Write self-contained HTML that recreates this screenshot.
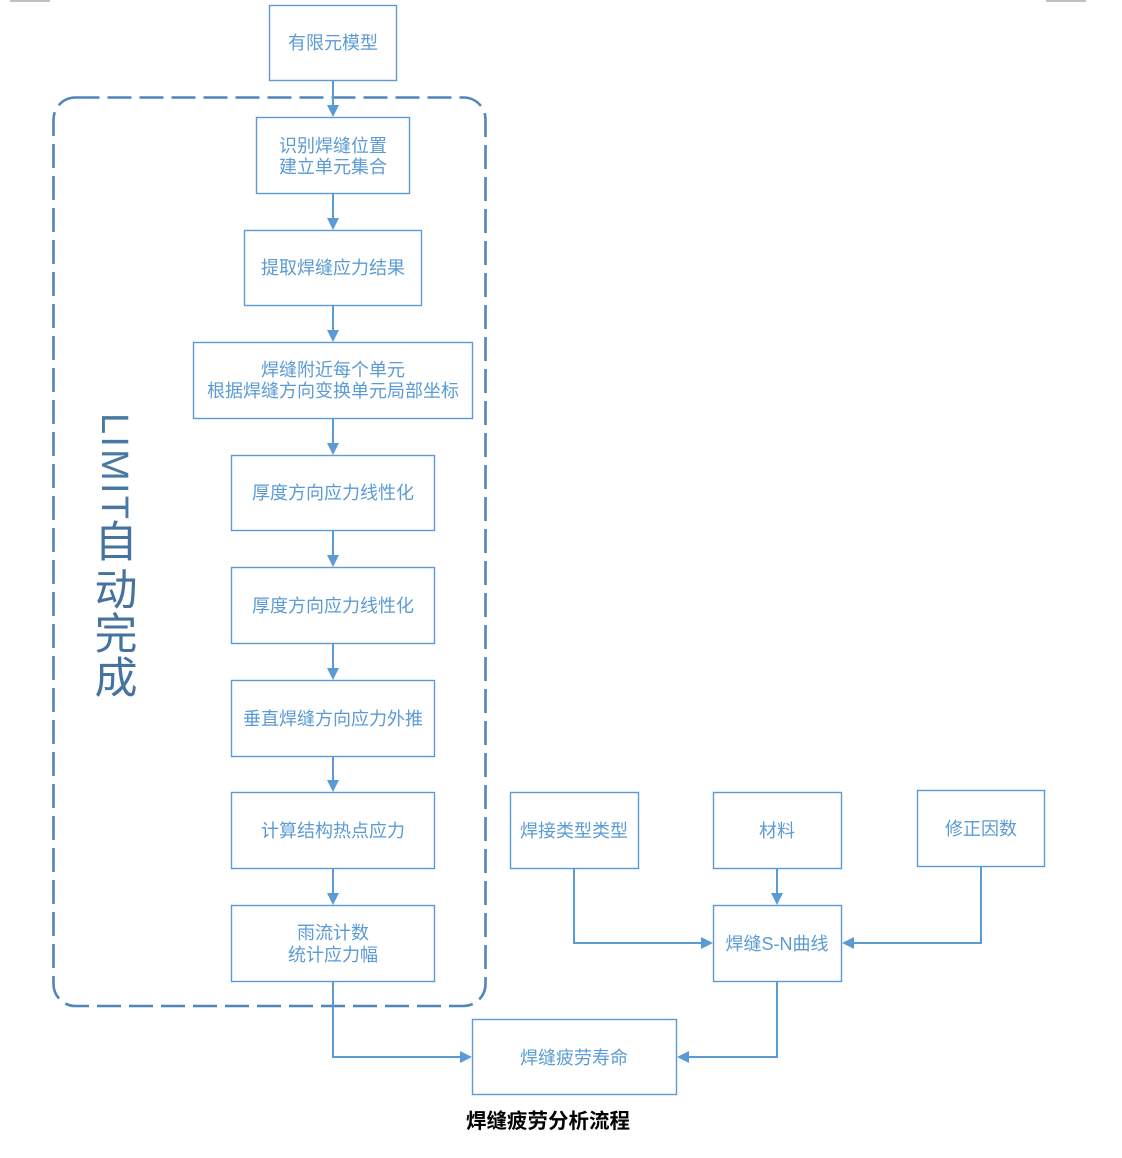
<!DOCTYPE html>
<html>
<head>
<meta charset="utf-8">
<style>
  html, body { margin:0; padding:0; background:#ffffff; }
  body { width:1122px; height:1158px; overflow:hidden; }
  svg { display:block; }
  .box { fill:#ffffff; stroke:#5b9bd5; stroke-width:1.4; }
  .t { font-family:"Liberation Sans","Noto Sans CJK SC",sans-serif; font-size:18px; fill:#5b9bd5; text-anchor:middle; }
  .ln { fill:none; stroke:#5b9bd5; stroke-width:2; }
  .ah { fill:#5b9bd5; }
</style>
</head>
<body>
<svg width="1122" height="1158" viewBox="0 0 1122 1158" xmlns="http://www.w3.org/2000/svg">
  <!-- top gray bars -->
  <rect x="10" y="0" width="40" height="2" fill="#c0c0c0"/>
  <rect x="1046" y="0" width="40" height="2" fill="#c0c0c0"/>

  <!-- dashed rounded container -->
  <rect x="53.5" y="97.5" width="432" height="908.5" rx="22" ry="22" fill="none" stroke="#4f86bb" stroke-width="2.6" stroke-dasharray="24 8"/>

  <!-- LIMIT自动完成 -->
  <text transform="translate(102,413) rotate(90)" font-family="Liberation Sans, sans-serif" font-size="38" fill="#4a78a3" textLength="106" lengthAdjust="spacing">LIMIT</text>
  <g font-family="Liberation Sans, Noto Sans CJK SC, sans-serif" font-size="43" fill="#45739f" text-anchor="middle">
    <text x="116" y="557">自</text>
    <text x="116" y="605">动</text>
    <text x="116" y="649">完</text>
    <text x="116" y="693">成</text>
  </g>

  <!-- left column boxes -->
  <rect class="box" x="269.5" y="5.5" width="127" height="75"/>
  <text class="t" x="333" y="49">有限元模型</text>

  <rect class="box" x="256.5" y="117.5" width="153" height="76"/>
  <text class="t" x="333" y="152">识别焊缝位置</text>
  <text class="t" x="333" y="173">建立单元集合</text>

  <rect class="box" x="244.5" y="230.5" width="177" height="75"/>
  <text class="t" x="333" y="274">提取焊缝应力结果</text>

  <rect class="box" x="193.5" y="342.5" width="279" height="76"/>
  <text class="t" x="333" y="376">焊缝附近每个单元</text>
  <text class="t" x="333" y="397">根据焊缝方向变换单元局部坐标</text>

  <rect class="box" x="231.5" y="455.5" width="203" height="75"/>
  <text class="t" x="333" y="499">厚度方向应力线性化</text>

  <rect class="box" x="231.5" y="567.5" width="203" height="76"/>
  <text class="t" x="333" y="612">厚度方向应力线性化</text>

  <rect class="box" x="231.5" y="680.5" width="203" height="76"/>
  <text class="t" x="333" y="725">垂直焊缝方向应力外推</text>

  <rect class="box" x="231.5" y="792.5" width="203" height="76"/>
  <text class="t" x="333" y="837">计算结构热点应力</text>

  <rect class="box" x="231.5" y="905.5" width="203" height="76"/>
  <text class="t" x="333" y="939">雨流计数</text>
  <text class="t" x="333" y="961">统计应力幅</text>

  <!-- right boxes -->
  <rect class="box" x="510.5" y="792.5" width="128" height="76"/>
  <text class="t" x="574" y="837">焊接类型类型</text>

  <rect class="box" x="713.5" y="792.5" width="128" height="76"/>
  <text class="t" x="777" y="837">材料</text>

  <rect class="box" x="917.5" y="790.5" width="127" height="76"/>
  <text class="t" x="981" y="835">修正因数</text>

  <rect class="box" x="713.5" y="905.5" width="128" height="76"/>
  <text class="t" x="777" y="950">焊缝S-N曲线</text>

  <rect class="box" x="472.5" y="1019.5" width="204" height="75"/>
  <text class="t" x="574" y="1064">焊缝疲劳寿命</text>

  <!-- vertical arrows left column -->
  <g>
    <line class="ln" x1="333" y1="81" x2="333" y2="106"/>
    <polygon class="ah" points="327,105 339,105 333,117"/>
    <line class="ln" x1="333" y1="194" x2="333" y2="219"/>
    <polygon class="ah" points="327,218 339,218 333,230"/>
    <line class="ln" x1="333" y1="306" x2="333" y2="331"/>
    <polygon class="ah" points="327,330 339,330 333,342"/>
    <line class="ln" x1="333" y1="419" x2="333" y2="444"/>
    <polygon class="ah" points="327,443 339,443 333,455"/>
    <line class="ln" x1="333" y1="531" x2="333" y2="556"/>
    <polygon class="ah" points="327,555 339,555 333,567"/>
    <line class="ln" x1="333" y1="644" x2="333" y2="669"/>
    <polygon class="ah" points="327,668 339,668 333,680"/>
    <line class="ln" x1="333" y1="757" x2="333" y2="781"/>
    <polygon class="ah" points="327,780 339,780 333,792"/>
    <line class="ln" x1="333" y1="869" x2="333" y2="894"/>
    <polygon class="ah" points="327,893 339,893 333,905"/>
  </g>

  <!-- elbow connectors -->
  <polyline class="ln" points="333,982 333,1057 461,1057"/>
  <polygon class="ah" points="460,1051 460,1063 472,1057"/>

  <polyline class="ln" points="574,869 574,943 702,943"/>
  <polygon class="ah" points="701,937 701,949 713,943"/>

  <line class="ln" x1="777" y1="869" x2="777" y2="894"/>
  <polygon class="ah" points="771,893 783,893 777,905"/>

  <polyline class="ln" points="981,867 981,943 853,943"/>
  <polygon class="ah" points="854,937 854,949 842,943"/>

  <polyline class="ln" points="777,982 777,1057 688,1057"/>
  <polygon class="ah" points="689,1051 689,1063 677,1057"/>

  <!-- caption -->
  <text x="548" y="1128" font-family="Liberation Sans, Noto Sans CJK SC, sans-serif" font-size="20.5" font-weight="bold" fill="#000000" text-anchor="middle">焊缝疲劳分析流程</text>
</svg>
</body>
</html>
